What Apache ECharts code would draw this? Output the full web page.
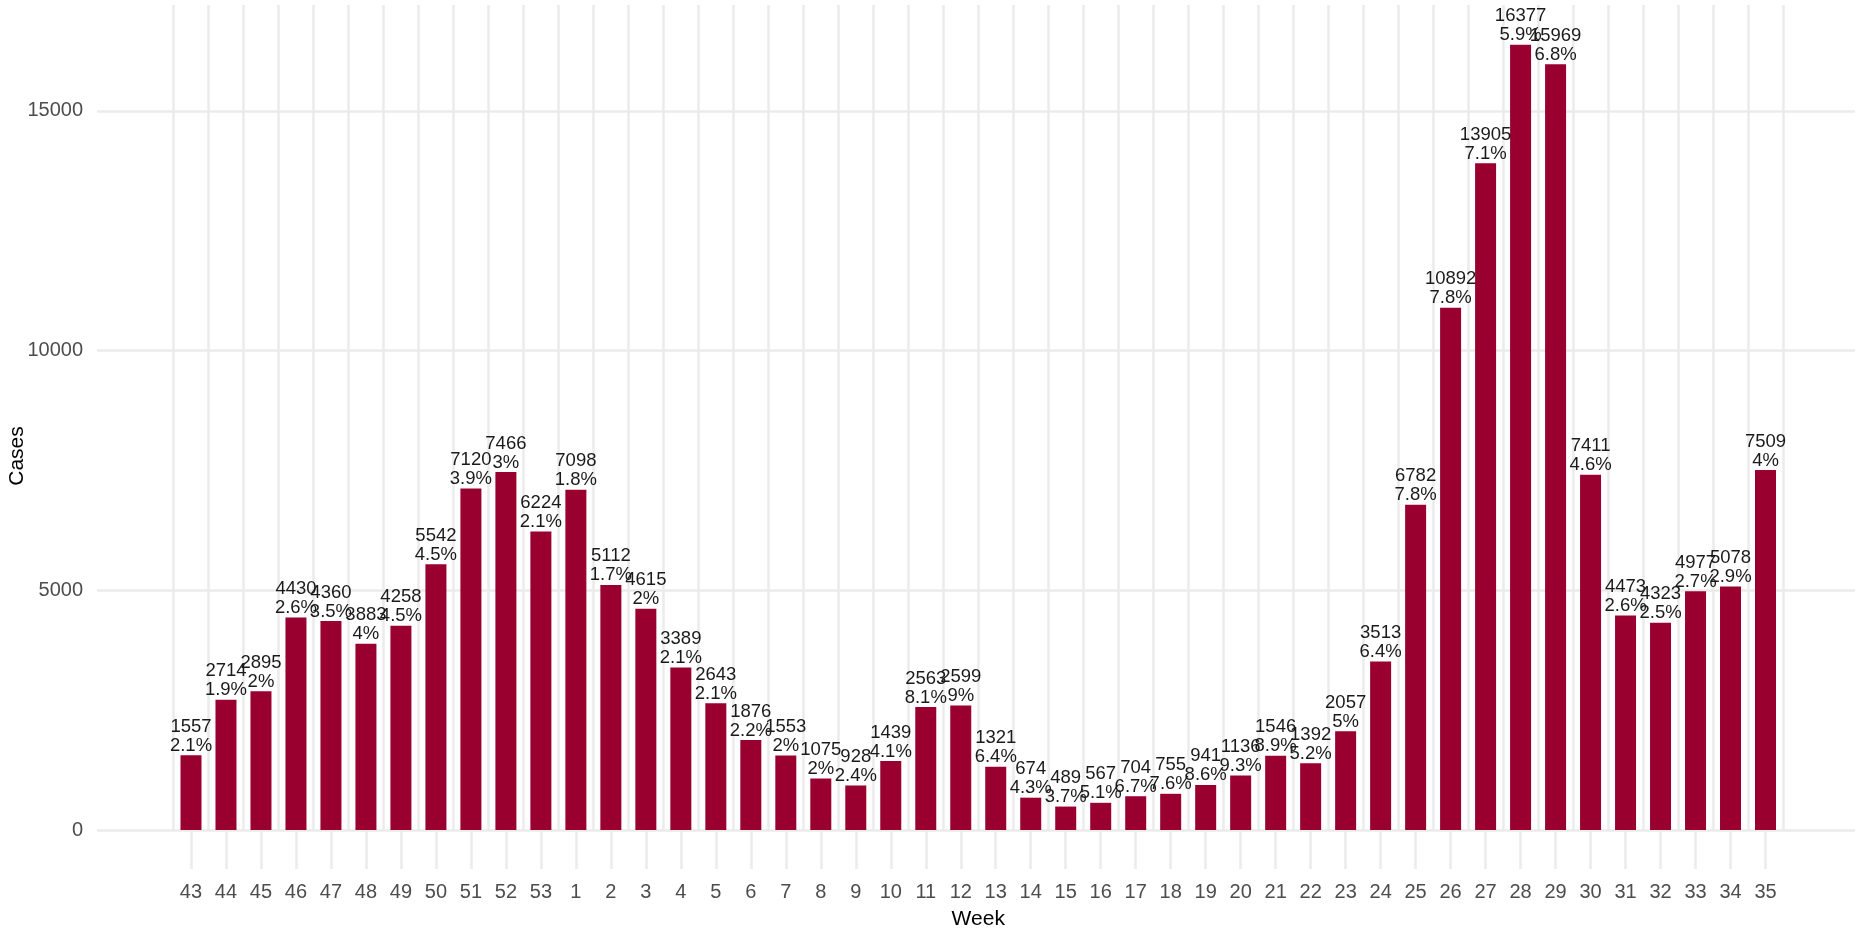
<!DOCTYPE html>
<html>
<head>
<meta charset="utf-8">
<title>Cases per week</title>
<script src="https://cdn.jsdelivr.net/npm/echarts@6/dist/echarts.min.js"></script>
<style>
    html, body { margin: 0; padding: 0; background: #fff; }
    #main { width: 1859px; height: 934px; }
</style>
</head>
<body>
<div id="main"></div>
<script>
// --------------------------------------------------------------------------------------------------------------------
var weeks = ['43', '44', '45', '46', '47', '48', '49', '50', '51', '52', '53',
    '1', '2', '3', '4', '5', '6', '7', '8', '9', '10', '11', '12', '13', '14', '15', '16', '17', '18',
    '19', '20', '21', '22', '23', '24', '25', '26', '27', '28', '29', '30', '31', '32', '33', '34', '35'];
var cases = [1557, 2714, 2895, 4430, 4360, 3883, 4258, 5542, 7120, 7466, 6224,
    7098, 5112, 4615, 3389, 2643, 1876, 1553, 1075, 928, 1439, 2563, 2599, 1321, 674, 489, 567, 704, 755,
    941, 1136, 1546, 1392, 2057, 3513, 6782, 10892, 13905, 16377, 15969, 7411, 4473, 4323, 4977, 5078, 7509];
var positivity = [2.1, 1.9, 2, 2.6, 3.5, 4, 4.5, 4.5, 3.9, 3, 2.1,
    1.8, 1.7, 2, 2.1, 2.1, 2.2, 2, 2, 2.4, 4.1, 8.1, 9, 6.4, 4.3, 3.7, 5.1, 6.7, 7.6,
    8.6, 9.3, 8.9, 5.2, 5, 6.4, 7.8, 7.8, 7.1, 5.9, 6.8, 4.6, 2.6, 2.5, 2.7, 2.9, 4];
var yMin = 0;
var yMax = 20000;
var yStep = 5000;
// --------------------------------------------------------------------------------------------------------------------
var barColor = '#990030';
var gridColor = '#ebebeb';
var axisFont = '"Liberation Sans Narrow", "Arial Narrow", "Liberation Sans", sans-serif';
var textFont = '"Liberation Sans", Arial, sans-serif';

// the panel grid is wider than the bars, so it gets its own grid for the horizontal lines;
// the top of both grids sits above the page so the 20000 line is never seen
var gridTop = -129;
var gridBottom = 104;

var chart = echarts.init(document.getElementById('main'));
chart.setOption({
    animation: false,
    backgroundColor: '#fff',
    grid: [
        { left: 97, right: 4, top: gridTop, bottom: gridBottom, containLabel: false, outerBoundsMode: 'none' },
        { left: 173.5, right: 76, top: gridTop, bottom: gridBottom, containLabel: false, outerBoundsMode: 'none' }
    ],
    xAxis: [
        { gridIndex: 0, type: 'value', show: false, min: 0, max: 1 },
        {
            gridIndex: 1,
            type: 'category',
            data: weeks,
            boundaryGap: true,
            name: 'Week',
            nameLocation: 'middle',
            nameGap: 79,
            nameTextStyle: { fontFamily: textFont, fontSize: 21, color: '#000' },
            axisLine: { show: false },
            axisTick: {
                show: true,
                alignWithLabel: true,
                length: 39,
                lineStyle: { color: gridColor, width: 2.5 }
            },
            axisLabel: {
                interval: 0,
                margin: 52,
                fontFamily: axisFont,
                fontSize: 20,
                color: '#4d4d4d'
            },
            splitLine: {
                show: true,
                interval: 0,
                lineStyle: { color: gridColor, width: 2.5 }
            }
        }
    ],
    yAxis: [
        {
            gridIndex: 0,
            type: 'value',
            min: yMin,
            max: yMax,
            interval: yStep,
            axisLine: { show: false },
            axisTick: { show: false },
            axisLabel: {
                margin: 14,
                fontFamily: axisFont,
                fontSize: 20,
                color: '#4d4d4d',
                formatter: function (v) { return String(v); }
            },
            splitLine: { show: true, lineStyle: { color: gridColor, width: 2.5 } }
        },
        {
            gridIndex: 1,
            type: 'value',
            min: yMin,
            max: yMax,
            interval: yStep,
            show: false,
            splitLine: { show: false }
        }
    ],
    graphic: [
        {
            type: 'rect',
            left: 0,
            top: 0,
            z: 100,
            shape: { width: 1859, height: 5 },
            style: { fill: '#fff' }
        },
        {
            type: 'text',
            x: 17,
            y: 456,
            rotation: Math.PI / 2,
            style: {
                text: 'Cases',
                font: '21px ' + textFont,
                fill: '#000',
                align: 'center',
                verticalAlign: 'middle'
            }
        }
    ],
    series: [{
        name: 'Cases',
        type: 'bar',
        xAxisIndex: 1,
        yAxisIndex: 1,
        barWidth: 21,
        data: cases,
        itemStyle: { color: barColor },
        label: {
            show: true,
            position: 'top',
            distance: 0,
            fontFamily: textFont,
            fontSize: 18.5,
            lineHeight: 19,
            color: '#1a1a1a',
            formatter: function (p) {
                return cases[p.dataIndex] + '\n' + positivity[p.dataIndex] + '%';
            }
        }
    }]
});
</script>
</body>
</html>
